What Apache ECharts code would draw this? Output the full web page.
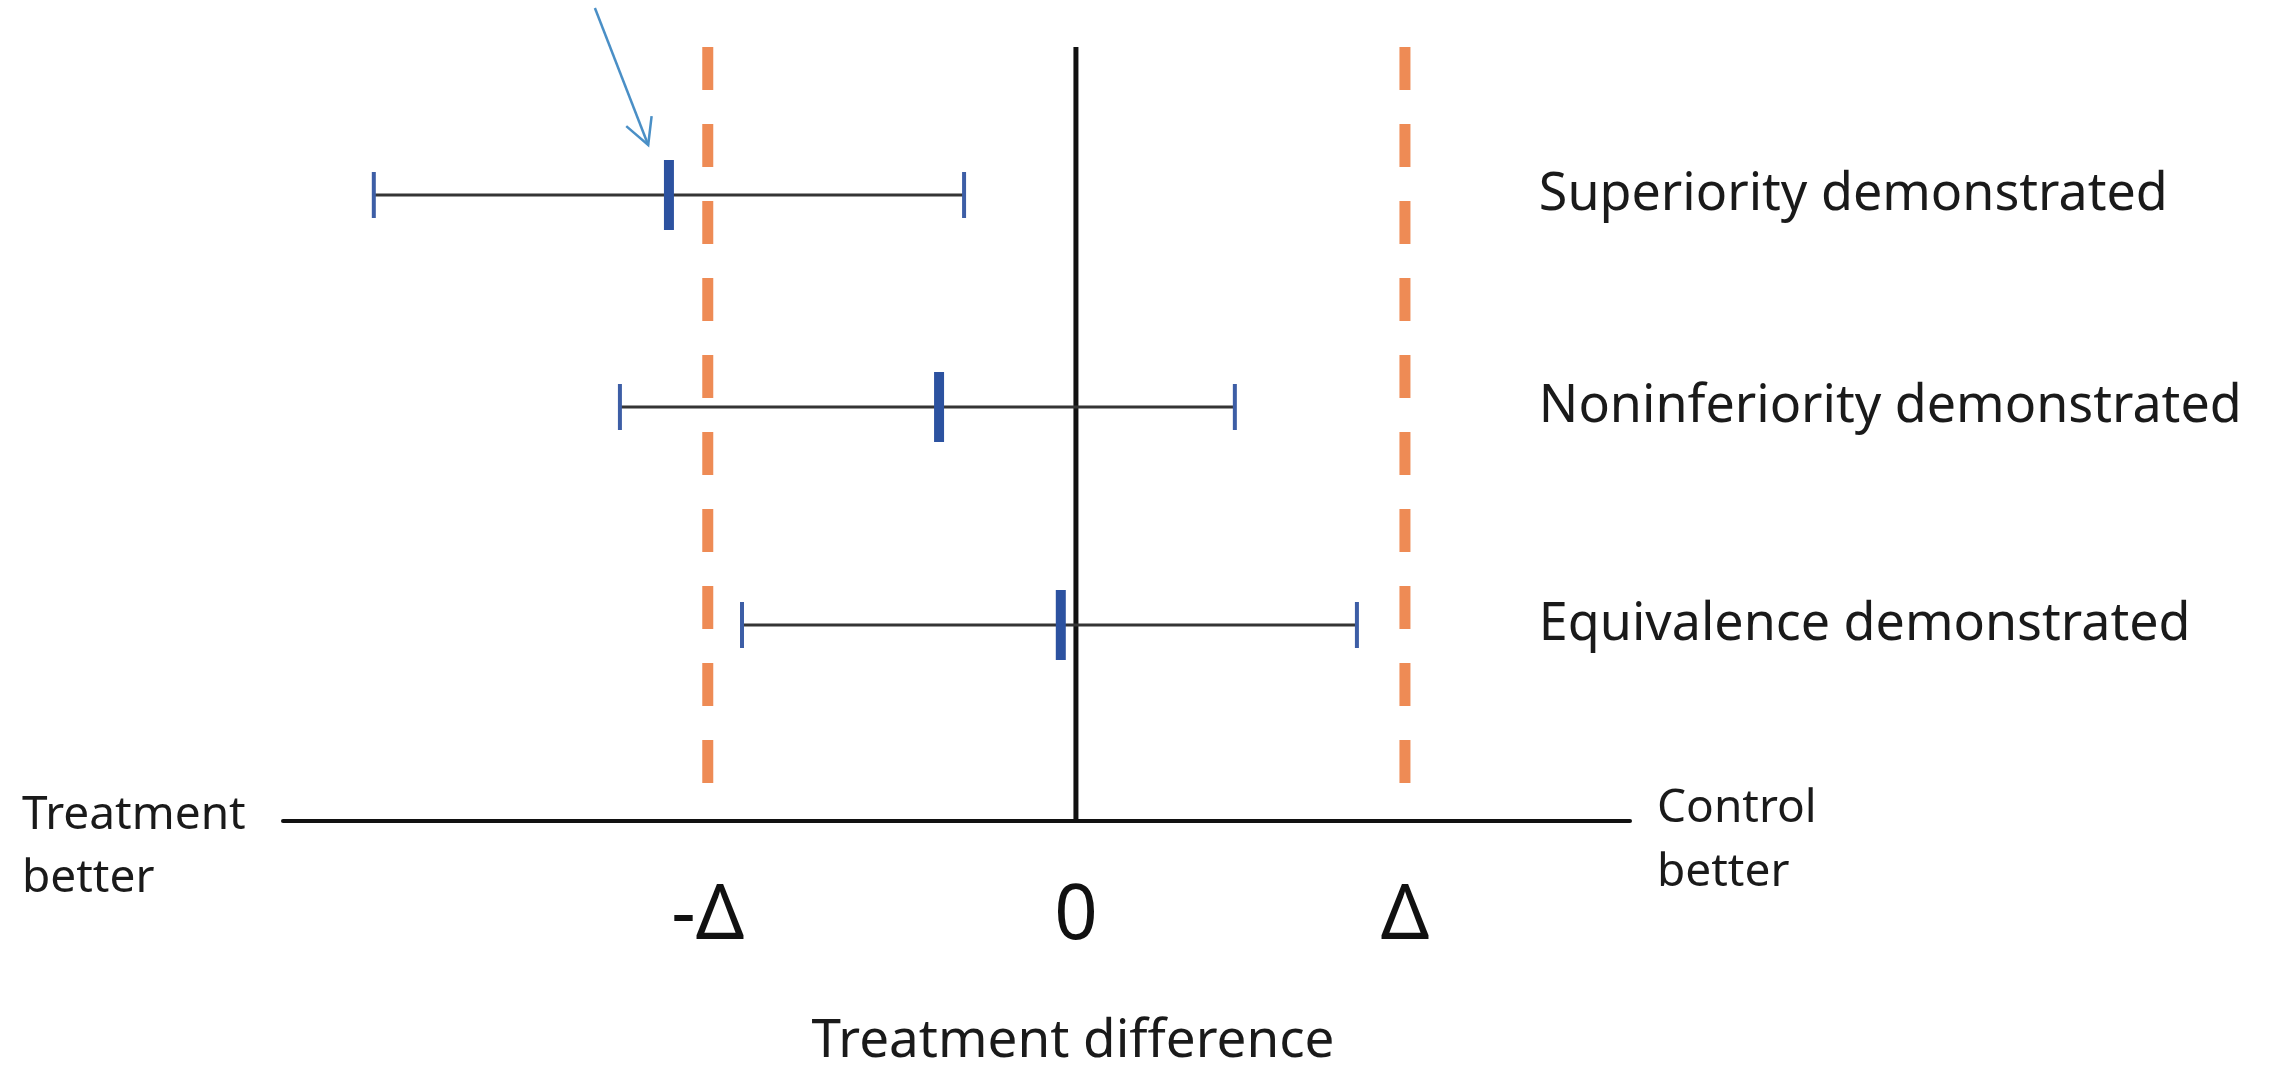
<!DOCTYPE html>
<html>
<head>
<meta charset="utf-8">
<script src="https://cdn.jsdelivr.net/npm/echarts@6/dist/echarts.min.js"></script>
<style>
html,body{margin:0;padding:0;background:#fff;}
#chart{width:2287px;height:1071px;}
</style>
</head>
<body>
<div id="chart"></div>
<script>
// ---- data (treatment difference, in units of the upper margin Δ) ----
const rowLabels = ['Superiority demonstrated', 'Noninferiority demonstrated', 'Equivalence demonstrated'];
const rowY = [6.26, 4.14, 1.96];
const ciLower = [-2.134, -1.386, -1.015];
const pointEst = [-1.237, -0.416, -0.046];
const ciUpper = [-0.340, 0.483, 0.854];
const marginValues = [-1.119, 1.0];
const tickValues = [-1.119, 0, 1.0];
const tickLabels = ['-Δ', '0', 'Δ'];
const refLineTop = 7.74;
const marginLineBottom = 0.34;
const labelX = 1.407;
const arrowFrom = [-1.462, 8.13];
const arrowTo = [-1.30, 6.76];
const axisName = 'Treatment difference';
const leftEndLabel = 'Treatment\nbetter';
const rightEndLabel = 'Control\nbetter';

const FONT = '"Noto Sans", "Open Sans", sans-serif';

const ciData = rowY.map((y, i) => [ciLower[i], pointEst[i], ciUpper[i], y]);

const chart = echarts.init(document.getElementById('chart'), null, {renderer: 'canvas'});

const series = [];

// zero line
series.push({
  type: 'line', data: [[0, 0], [0, refLineTop]], symbol: 'none', silent: true,
  lineStyle: {color: '#111111', width: 5}, z: 3, clip: false
});
// margin lines (dashed)
marginValues.forEach(m => {
  series.push({
    type: 'line', data: [[m, refLineTop], [m, marginLineBottom]], symbol: 'none', silent: true,
    lineStyle: {color: '#ee8b55', width: 11, type: [43, 34], cap: 'butt'}, z: 2, clip: false
  });
});
// confidence intervals
series.push({
  type: 'custom', data: ciData, z: 4, clip: false,
  renderItem: function (params, api) {
    const y = api.value(3);
    const lo = api.coord([api.value(0), y]);
    const pt = api.coord([api.value(1), y]);
    const hi = api.coord([api.value(2), y]);
    return {
      type: 'group',
      children: [
        {type: 'line', shape: {x1: lo[0], y1: lo[1], x2: hi[0], y2: hi[1]}, style: {stroke: '#353535', lineWidth: 3}},
        {type: 'line', shape: {x1: lo[0], y1: lo[1] - 23, x2: lo[0], y2: lo[1] + 23}, style: {stroke: '#3d5ea6', lineWidth: 4}},
        {type: 'line', shape: {x1: hi[0], y1: hi[1] - 23, x2: hi[0], y2: hi[1] + 23}, style: {stroke: '#3d5ea6', lineWidth: 4}},
        {type: 'line', shape: {x1: pt[0], y1: pt[1] - 35, x2: pt[0], y2: pt[1] + 35}, style: {stroke: '#2c52a0', lineWidth: 10}}
      ]
    };
  }
});
// row labels
series.push({
  type: 'custom', data: rowY.map((y, i) => [labelX, y, i]), z: 5, clip: false,
  renderItem: function (params, api) {
    const p = api.coord([api.value(0), api.value(1)]);
    return {
      type: 'text',
      style: {
        text: rowLabels[api.value(2)], x: p[0], y: p[1],
        font: '52px ' + FONT, fill: '#1a1a1a', textAlign: 'left', textVerticalAlign: 'middle'
      }
    };
  }
});
// arrow
series.push({
  type: 'custom', data: [[arrowFrom[0], arrowFrom[1], arrowTo[0], arrowTo[1]]], z: 6, clip: false,
  renderItem: function (params, api) {
    const a = api.coord([api.value(0), api.value(1)]);
    const b = api.coord([api.value(2), api.value(3)]);
    const ang = Math.atan2(a[1] - b[1], a[0] - b[0]);
    const len = 29, spread = 28 * Math.PI / 180;
    const l = [b[0] + len * Math.cos(ang + spread), b[1] + len * Math.sin(ang + spread)];
    const r = [b[0] + len * Math.cos(ang - spread), b[1] + len * Math.sin(ang - spread)];
    const st = {stroke: '#4a8fc6', lineWidth: 2.5, fill: null};
    return {
      type: 'group',
      children: [
        {type: 'line', shape: {x1: a[0], y1: a[1], x2: b[0], y2: b[1]}, style: st},
        {type: 'polyline', shape: {points: [l, b, r]}, style: st}
      ]
    };
  }
});

const option = {
  animation: false,
  backgroundColor: '#ffffff',
  grid: {left: 283, right: 657, top: 0, bottom: 250},
  xAxis: {
    type: 'value', min: -2.41, max: 1.684,
    splitLine: {show: false},
    axisTick: {show: false},
    axisLine: {show: true, onZero: false, lineStyle: {color: '#111111', width: 4}},
    axisLabel: {
      customValues: tickValues,
      formatter: function (v) {
        const i = tickValues.findIndex(t => Math.abs(t - v) < 1e-6);
        return i >= 0 ? tickLabels[i] : '';
      },
      fontFamily: FONT, fontSize: 76, color: '#111111', margin: 56, lineHeight: 80
    }
  },
  yAxis: {type: 'value', min: 0, max: 8.21, show: false},
  graphic: [
    {type: 'text', left: null, x: 1073, y: 1042,
     style: {text: axisName, font: '53px ' + FONT, fill: '#1a1a1a', textAlign: 'center', textVerticalAlign: 'middle'}},
    {type: 'text', x: 22, y: 784,
     style: {text: leftEndLabel, font: '46px ' + FONT, lineHeight: 63, fill: '#1a1a1a', textAlign: 'left', textVerticalAlign: 'top'}},
    {type: 'text', x: 1657, y: 777,
     style: {text: rightEndLabel, font: '46px ' + FONT, lineHeight: 64, fill: '#1a1a1a', textAlign: 'left', textVerticalAlign: 'top'}}
  ],
  series: series
};
chart.setOption(option);
</script>
</body>
</html>
